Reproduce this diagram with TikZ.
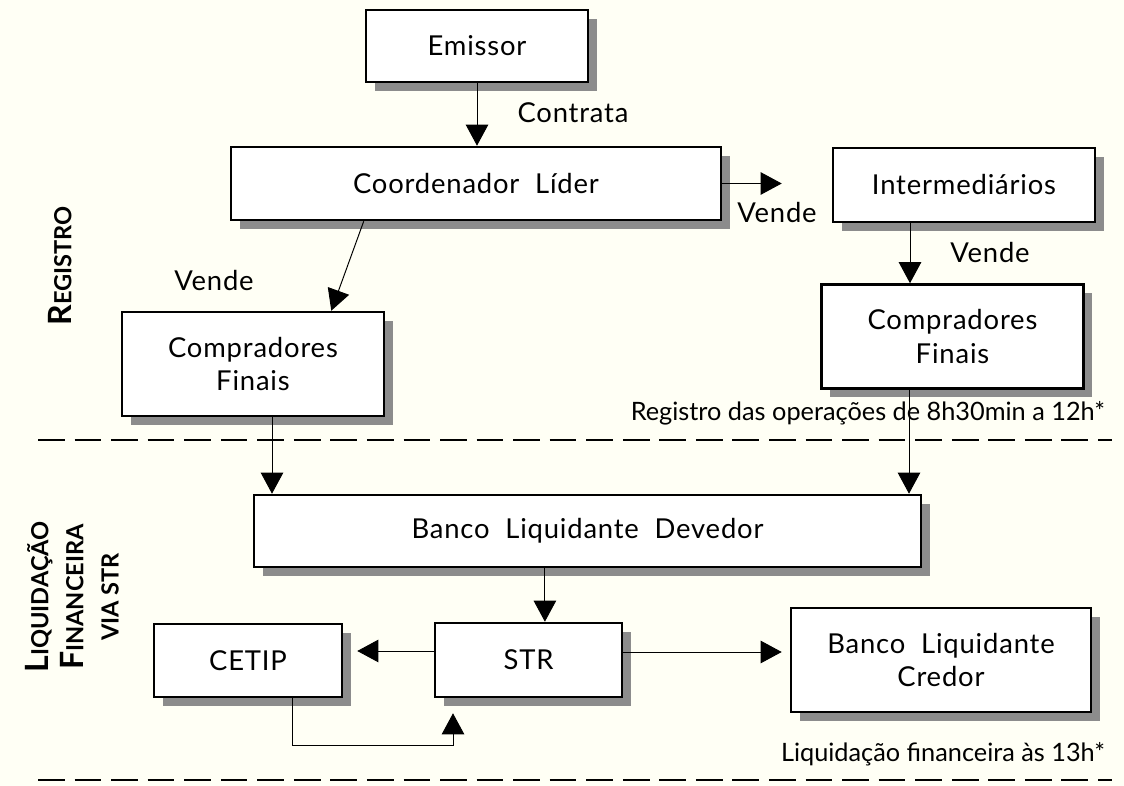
\documentclass[tikz,border=0pt]{standalone}
\usepackage{fontspec}
\setmainfont{Lato}
\newfontfamily\boxfont[LetterSpace=3,WordSpace=2]{Lato}
\usetikzlibrary{arrows.meta,shadows}
\definecolor{paper}{RGB}{255,255,245}
\definecolor{shade}{RGB}{140,140,140}
\newcommand\capsc[2]{{\fontsize{22.8}{25}\selectfont #1}{\fontsize{16.8}{25}\selectfont #2}}

\begin{document}
\begin{tikzpicture}[
    box/.style={draw, line width=1.8pt, fill=white, align=center,
      font=\boxfont\fontsize{19.5}{24}\selectfont,
      drop shadow={shadow xshift=0.22cm, shadow yshift=-0.22cm, fill=shade, opacity=1}},
    arr/.style={-{Triangle[length=15pt,width=16pt]}, line width=0.7pt},
    lbl/.style={font=\boxfont\fontsize{19.5}{24}\selectfont},
    note/.style={anchor=east, font=\fontsize{18}{21}\selectfont},
    sep/.style={line width=2pt, dash pattern=on 19pt off 7pt},
    side/.style={rotate=90, align=center, font=\bfseries\fontsize{22.8}{25}\selectfont}
  ]
    \fill[paper] (0,0) rectangle (28.1,19.65);
    \useasboundingbox (0,0) rectangle (28.1,19.65);

    \node[box, minimum width=5.55cm, minimum height=1.8cm] (emissor) at (11.925,18.5) {Emissor};
    \node[box, minimum width=12.25cm, minimum height=1.825cm] (lider) at (11.9,15.0625) {Coordenador Líder};
    \node[box, minimum width=6.55cm, minimum height=1.85cm] (interm) at (24.1,15.025) {Intermediários};
    \node[box, minimum width=6.55cm, minimum height=2.6cm] (compesq) at (6.325,10.55) {Compradores\\Finais};
    \node[box, minimum width=6.55cm, minimum height=2.6cm] (compdir) at (23.8125,11.2375) {Compradores\\Finais};
    \node[box, minimum width=16.675cm, minimum height=1.8cm] (devedor) at (14.6875,6.375) {Banco Liquidante Devedor};
    \node[box, minimum width=4.675cm, minimum height=1.85cm] (str) at (13.2125,3.15) {STR};
    \node[box, minimum width=4.7cm, minimum height=1.825cm] (cetip) at (6.2,3.1375) {CETIP};
    \node[box, minimum width=7.5cm, minimum height=2.6cm] (credor) at (23.525,3.15) {Banco Liquidante\\Credor};

    \draw[arr] (emissor.south) -- (emissor.south |- lider.north);
    \draw[arr, shorten >=1.25cm] (lider.east) -- (lider.east -| interm.west);
    \draw[arr] ([xshift=3.35cm]lider.south west) -- ([xshift=-1.35cm]compesq.north east);
    \draw[arr] ([xshift=-1.35cm]interm.south) -- ([xshift=-1.35cm]interm.south |- compdir.north);
    \draw[arr] ([xshift=0.475cm]compesq.south) -- ([xshift=0.475cm]compesq.south |- devedor.north);
    \draw[arr] ([xshift=-1.0875cm]compdir.south) -- ([xshift=-1.0875cm]compdir.south |- devedor.north);
    \draw[arr] ([xshift=0.41cm]str.north |- devedor.south) -- ([xshift=0.41cm]str.north);
    \draw[arr, shorten >=0.35cm] ([yshift=0.225cm]str.west) -- ([yshift=0.225cm]str.west -| cetip.east);
    \draw[arr, shorten >=0.2cm] ([yshift=0.2cm]str.east) -- ([yshift=0.2cm]str.east -| credor.west);
    \draw[arr] ([xshift=1.1cm]cetip.south) -- ++(0,-1.175) -| ([xshift=-1.8875cm,yshift=-0.375cm]str.south);

    \node[lbl] (contrata) at (14.325,16.825) {Contrata};
    \node[lbl] (vende1) at (19.425,14.325) {Vende};
    \node[lbl] (vende2) at (5.35,12.625) {Vende};
    \node[lbl] (vende3) at (24.75,13.325) {Vende};

    \node[note] (horareg) at (27.75,9.325) {Registro das operações de 8h30min a 12h*};
    \node[note] (horaliq) at (27.75,0.8) {Liquidação financeira às 13h*};

    \draw[sep] (0.95,8.65) -- (27.8,8.65);
    \draw[sep] (0.95,0.15) -- (27.8,0.15);

    \node[side] (registro) at (1.5,13.0) {\capsc{R}{EGISTRO}};
    \node[side] (liquid) at (1.8,4.725) {\capsc{L}{IQUIDAÇÃO}\\\capsc{F}{INANCEIRA}\\{\fontsize{16.8}{25}\selectfont VIA STR}};
\end{tikzpicture}
\end{document}
